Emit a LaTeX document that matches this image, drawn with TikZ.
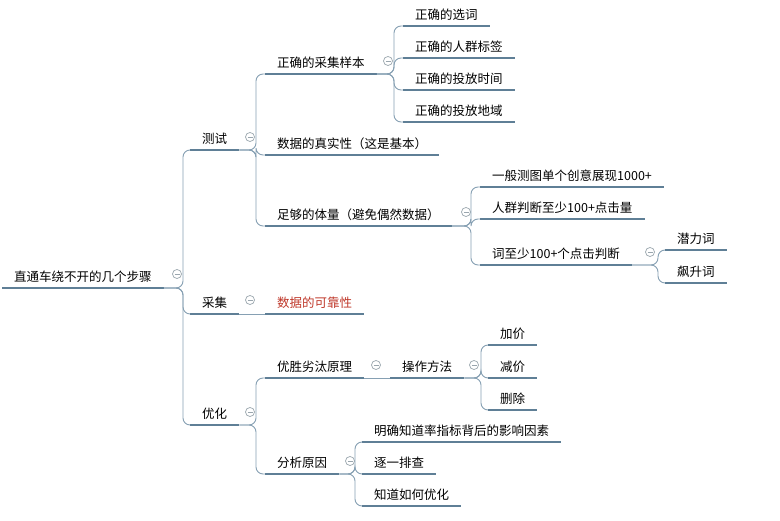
\documentclass[tikz,border=0pt]{standalone}
\usepackage{fontspec}
\setmainfont{Noto Sans CJK SC}
\definecolor{barblue}{HTML}{5F7F96}
\definecolor{linkblue}{HTML}{86A0B3}
\definecolor{foldgray}{HTML}{9AA6AE}
\definecolor{hotred}{HTML}{C0392B}
\tikzset{
  topic/.style={anchor=south west,inner xsep=12pt,inner ysep=5pt,
    font=\fontsize{12.5}{14}\selectfont,
    append after command={(\tikzlastnode.south west) edge[bar] (\tikzlastnode.south east)}},
  bar/.style={draw=barblue,line width=2.6pt},
  link/.style={draw=linkblue,line width=0.9pt,rounded corners=7pt},
  fold/.style={circle,draw=foldgray,line width=0.7pt,minimum size=9pt,inner sep=0pt,
    path picture={\draw[foldgray,line width=0.7pt] ([xshift=-2.5pt]path picture bounding box.center) -- ([xshift=2.5pt]path picture bounding box.center);}}
}
\begin{document}
\begin{tikzpicture}[x=1pt,y=-1pt]
   \useasboundingbox[fill=white] (0,0) rectangle (780,521);
   % main topic
   \node[topic] (root) at (2,288) {直通车绕不开的几个步骤};
   \node[fold] at (177,274) {};
   % first level
   \node[topic] (test) at (190,150) {测试};
   \node[topic] (collect) at (190,314) {采集};
   \node[topic] (optim) at (190,425) {优化};
   \node[fold] at (250,137) {};
   \node[fold] at (250,412) {};
   \node[fold] at (250,300) {};
   \foreach \c in {test,collect,optim}
     \draw[link] (root.south east) -| ([xshift=-7pt]\c.south west) -- (\c.south west);
   % test
   \node[topic] (sample) at (265,74) {正确的采集样本};
   \node[topic] (real) at (265,155) {数据的真实性（这是基本）};
   \node[topic] (volume) at (265,226) {足够的体量（避免偶然数据）};
   \node[fold] at (388,61) {};
   \node[fold] at (466,212) {};
   \foreach \c in {sample,real,volume}
     \draw[link] (test.south east) -| ([xshift=-9pt]\c.south west) -- (\c.south west);
   \node[topic] (word) at (403,26) {正确的选词};
   \node[topic] (crowd) at (403,58) {正确的人群标签};
   \node[topic] (time) at (403,90) {正确的投放时间};
   \node[topic] (area) at (403,122) {正确的投放地域};
   \foreach \c in {word,crowd,time,area}
     \draw[link] (sample.south east) -| ([xshift=-9pt]\c.south west) -- (\c.south west);
   \node[topic] (show) at (480,187) {一般测图单个创意展现1000+};
   \node[topic] (click) at (480,219) {人群判断至少100+点击量};
   \node[topic] (judge) at (480,265) {词至少100+个点击判断};
   \node[fold] at (650,252) {};
   \foreach \c in {show,click,judge}
     \draw[link] (volume.south east) -| ([xshift=-9pt]\c.south west) -- (\c.south west);
   \node[topic] (pot) at (665,250) {潜力词};
   \node[topic] (rise) at (665,283) {飙升词};
   \foreach \c in {pot,rise}
     \draw[link] (judge.south east) -| ([xshift=-7pt]\c.south west) -- (\c.south west);
   % collect
   \node[topic,text=hotred] (trust) at (265,314) {数据的可靠性};
   \draw[link] (collect.south east) -- (trust.south west);
   % optimise
   \node[topic] (elim) at (265,378) {优胜劣汰原理};
   \node[topic] (cause) at (265,474) {分析原因};
   \node[fold] at (376,365) {};
   \node[fold] at (350,461) {};
   \foreach \c in {elim,cause}
     \draw[link] (optim.south east) -| ([xshift=-9pt]\c.south west) -- (\c.south west);
   \node[topic] (method) at (390,378) {操作方法};
   \node[fold] at (474,365) {};
   \draw[link] (elim.south east) -- (method.south west);
   \node[topic] (up) at (488,345) {加价};
   \node[topic] (down) at (488,378) {减价};
   \node[topic] (del) at (488,410) {删除};
   \foreach \c in {up,down,del}
     \draw[link] (method.south east) -| ([xshift=-7pt]\c.south west) -- (\c.south west);
   \node[topic] (factor) at (362,442) {明确知道率指标背后的影响因素};
   \node[topic] (check) at (362,474) {逐一排查};
   \node[topic] (how) at (362,506) {知道如何优化};
   \foreach \c in {factor,check,how}
     \draw[link] (cause.south east) -| ([xshift=-7pt]\c.south west) -- (\c.south west);
\end{tikzpicture}
\end{document}
